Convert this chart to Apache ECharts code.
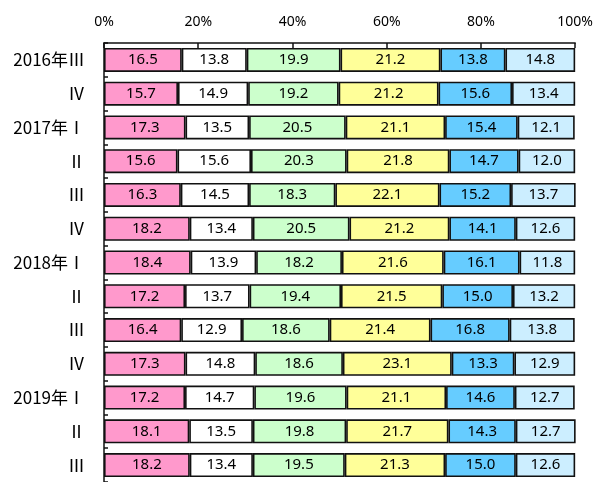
<!DOCTYPE html>
<html>
<head>
<meta charset="utf-8">
<script src="https://cdn.jsdelivr.net/npm/echarts@6/dist/echarts.min.js"></script>
<style>
  html, body { margin: 0; padding: 0; background: #fff; }
  #chart { width: 596px; height: 482px; }
</style>
</head>
<body>
<div id="chart"></div>
<script>
// categories (quarters)
const categories = ['2016年Ⅲ', 'Ⅳ', '2017年Ⅰ', 'Ⅱ', 'Ⅲ', 'Ⅳ', '2018年Ⅰ', 'Ⅱ', 'Ⅲ', 'Ⅳ', '2019年Ⅰ', 'Ⅱ', 'Ⅲ'];

// shares per segment, left to right
const seg1 = [16.5, 15.7, 17.3, 15.6, 16.3, 18.2, 18.4, 17.2, 16.4, 17.3, 17.2, 18.1, 18.2];
const seg2 = [13.8, 14.9, 13.5, 15.6, 14.5, 13.4, 13.9, 13.7, 12.9, 14.8, 14.7, 13.5, 13.4];
const seg3 = [19.9, 19.2, 20.5, 20.3, 18.3, 20.5, 18.2, 19.4, 18.6, 18.6, 19.6, 19.8, 19.5];
const seg4 = [21.2, 21.2, 21.1, 21.8, 22.1, 21.2, 21.6, 21.5, 21.4, 23.1, 21.1, 21.7, 21.3];
const seg5 = [13.8, 15.6, 15.4, 14.7, 15.2, 14.1, 16.1, 15.0, 16.8, 13.3, 14.6, 14.3, 15.0];
const seg6 = [14.8, 13.4, 12.1, 12.0, 13.7, 12.6, 11.8, 13.2, 13.8, 12.9, 12.7, 12.7, 12.6];

const axisTicks = [0, 20, 40, 60, 80, 100];

const colors = ['#ff99cc', '#ffffff', '#ccffcc', '#ffff99', '#66ccff', '#cceeff'];

let chart = echarts.init(document.getElementById('chart'));

function makeSeries(data, color)
{
    return {
        type: 'bar',
        stack: 'total',
        data: data,
        barWidth: 24,
        itemStyle: {
            color: color,
            borderColor: '#111',
            borderWidth: 1.6
        },
        label: {
            show: true,
            position: 'inside',
            color: '#000',
            fontFamily: 'Noto Sans',
            fontSize: 15,
            formatter: function (p)
            {
                return p.value.toFixed(1);
            }
        },
        emphasis: {disabled: true},
        animation: false
    };
}

let option = {
    backgroundColor: '#fff',
    grid: {
        left: 104,
        top: 43,
        width: 473,
        height: 448
    },
    xAxis: {
        type: 'value',
        position: 'top',
        min: axisTicks[0],
        max: axisTicks[axisTicks.length - 1],
        interval: 20,
        axisLine: {show: true, lineStyle: {color: '#111', width: 1.5}},
        axisTick: {show: true, inside: true, length: 5, lineStyle: {color: '#111', width: 1.5}},
        axisLabel: {
            formatter: '{value}%',
            color: '#000',
            fontFamily: 'Noto Sans',
            fontSize: 14,
            margin: 14
        },
        splitLine: {show: false}
    },
    yAxis: {
        type: 'category',
        inverse: true,
        data: categories,
        axisLine: {show: true, lineStyle: {color: '#111', width: 1.5}},
        axisTick: {show: true, inside: true, length: 4, lineStyle: {color: '#111', width: 1.5}},
        axisLabel: {
            color: '#000',
            fontFamily: 'Noto Sans CJK JP',
            fontSize: 17,
            margin: 19
        }
    },
    series: [
        makeSeries(seg1, colors[0]),
        makeSeries(seg2, colors[1]),
        makeSeries(seg3, colors[2]),
        makeSeries(seg4, colors[3]),
        makeSeries(seg5, colors[4]),
        makeSeries(seg6, colors[5])
    ]
};

chart.setOption(option);
</script>
</body>
</html>
